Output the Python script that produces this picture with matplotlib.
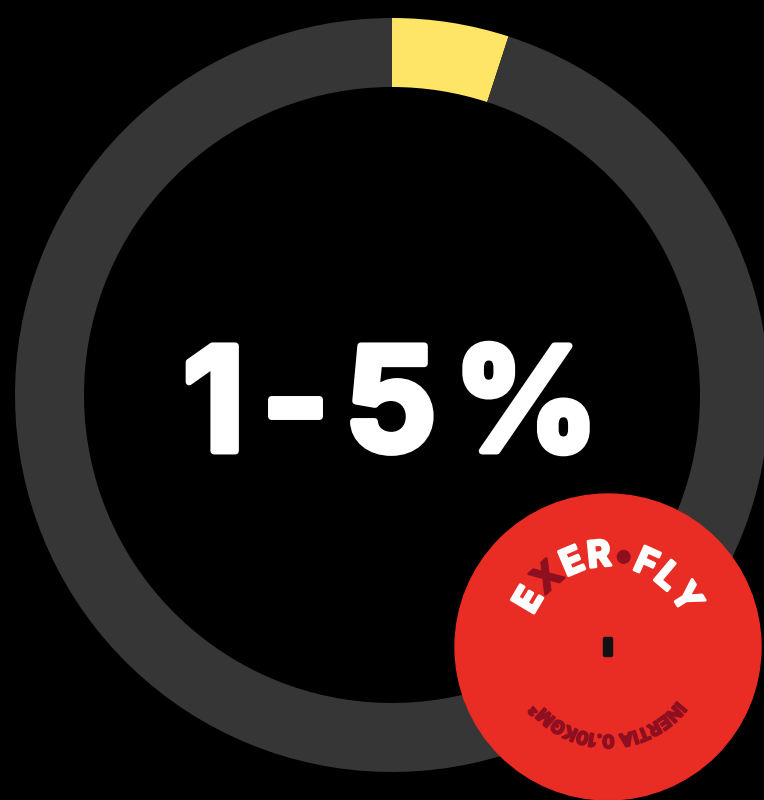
import numpy as np
import matplotlib
matplotlib.use("Agg")
import matplotlib.pyplot as plt
import matplotlib.patheffects as pe
from matplotlib.patches import Circle, FancyBboxPatch
from matplotlib.font_manager import FontProperties

# data
shares = [5, 95]
share_colors = ["#FFE566", "#363636"]
big_label = "1-5%"
brand = "EXER•FLY"
brand_colors = ["white", "#8E0F1F", "white", "white", "#8E0F1F", "white", "white", "white"]
inertia = "INERTIA 0.10KGM²"

W, H = 764, 800
fig = plt.figure(figsize=(W / 100, H / 100), dpi=100, facecolor="black")
ax = fig.add_axes([0, 0, 1, 1])
ax.set_facecolor("black")

# ring
ax.pie(shares, colors=share_colors, startangle=90, counterclock=False,
       center=(392, 405), radius=377,
       wedgeprops=dict(width=69, linewidth=0))

ax.set_xlim(0, W)
ax.set_ylim(0, H)
ax.set_aspect("equal")
ax.axis("off")

renderer = fig.canvas.get_renderer()


def char_widths(text, fp):
    em = fp.get_size_in_points() * 100 / 72
    out = []
    for ch in text:
        if ch == " ":
            out.append(0.28 * em)
            continue
        t = ax.text(0, 0, ch, fontproperties=fp)
        out.append(t.get_window_extent(renderer).width)
        t.remove()
    return out


# big centre label, letter-spaced
big_fp = FontProperties(family="Inter", weight="bold", size=104)
bw = char_widths(big_label, big_fp)
track = 16
x = 391 - (sum(bw) + track * (len(bw) - 1)) / 2
for ch, w in zip(big_label, bw):
    ax.text(x + w / 2, 349, ch, ha="center", va="baseline", color="white",
            fontproperties=big_fp,
            path_effects=[pe.withStroke(linewidth=5, foreground="white")])
    x += w + track

# red disc
cx, cy, R = 608, 153, 153
ax.add_patch(Circle((cx, cy), R, color="#E92C24", zorder=4))
ax.add_patch(FancyBboxPatch((cx - 3, cy - 8), 6, 16, boxstyle="round,pad=1.5",
                            color="#111111", zorder=5))


def arc_text(text, rb, center_deg, size, colors, track, stroke):
    fp = FontProperties(family="Inter", weight="bold", size=size)
    widths = [w + track for w in char_widths(text, fp)]
    total = sum(widths)
    ang = np.radians(center_deg) + total / 2 / rb
    for ch, w, c in zip(text, widths, colors):
        a = ang - (w / 2) / rb
        ax.text(cx + rb * np.cos(a), cy + rb * np.sin(a), ch, fontproperties=fp,
                color=c, rotation=np.degrees(a) - 90, rotation_mode="anchor",
                ha="center", va="baseline", zorder=6,
                path_effects=[pe.withStroke(linewidth=stroke, foreground=c)])
        ang -= w / rb


arc_text(brand, 81, 90, 26, brand_colors, 1.5, 2.0)
arc_text(inertia, 88, -90, 13, ["#8E0F1F"] * len(inertia), -0.5, 1.4)

fig.savefig("out.png", dpi=100, facecolor="black")
